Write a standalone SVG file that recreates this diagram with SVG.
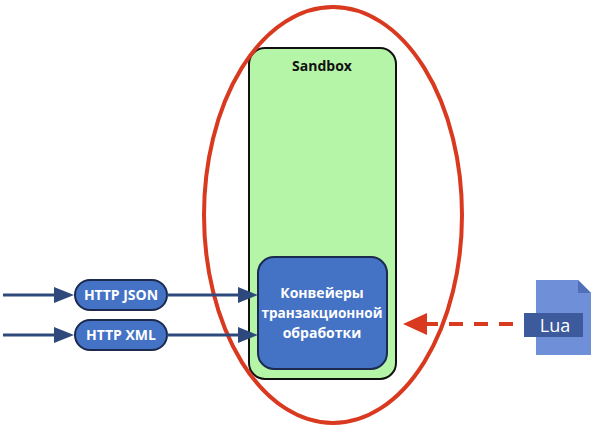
<svg xmlns="http://www.w3.org/2000/svg" width="600" height="437" viewBox="0 0 600 437">
<style>
.lbl{font-family:"Open Sans","Liberation Sans",sans-serif;font-weight:bold;fill:#fff;text-anchor:middle}
.pill{fill:#4472c4;stroke:#1b2a4e;stroke-width:2}
.conn{stroke:#2e4a7d;stroke-width:3;fill:none}
.head{fill:#2e4a7d}
</style>
<rect width="600" height="437" fill="#fff"/>
<g id="sandbox">
<rect x="249" y="48" width="147" height="331" rx="16" fill="#b5f5a8" stroke="#111" stroke-width="2"/>
<text x="322" y="71" font-family="'Open Sans','Liberation Sans',sans-serif" font-weight="bold" font-size="14" text-anchor="middle" fill="#111">Sandbox</text>
</g>
<g id="pipelines">
<rect x="258" y="257" width="129" height="112" rx="16" fill="#4472c4" stroke="#1b2a4e" stroke-width="2"/>
<text class="lbl" font-size="14" x="322" y="298">Конвейеры</text>
<text class="lbl" font-size="14" x="322" y="318" textLength="121" lengthAdjust="spacingAndGlyphs">транзакционной</text>
<text class="lbl" font-size="14" x="322" y="338">обработки</text>
</g>
<g id="http-json">
<rect class="pill" x="75" y="280" width="92" height="30" rx="15"/>
<text class="lbl" font-size="14" x="121" y="300">HTTP JSON</text>
</g>
<g id="http-xml">
<rect class="pill" x="75" y="320" width="92" height="30" rx="15"/>
<text class="lbl" font-size="14" x="121" y="340">HTTP XML</text>
</g>
<g id="lua">
<path d="M536,280H578L591,293V355H536Z" fill="#6f8fd8"/>
<path d="M578,280V293H591Z" fill="#4f6fb8"/>
<rect x="524" y="313" width="59" height="24" fill="#3d5a9c"/>
<text x="555" y="332" font-family="'Open Sans','Liberation Sans',sans-serif" font-size="18" text-anchor="middle" fill="#fff">Lua</text>
</g>
<g id="boundary">
<ellipse cx="333" cy="215" rx="129" ry="208" fill="none" stroke="#d9391f" stroke-width="4"/>
</g>
<g id="connectors">
<line class="conn" x1="3" y1="295" x2="56" y2="295"/>
<path class="head" d="M74,295L54,287V303Z"/>
<line class="conn" x1="3" y1="335" x2="56" y2="335"/>
<path class="head" d="M74,335L54,327V343Z"/>
<line class="conn" x1="167" y1="295" x2="240" y2="295"/>
<path class="head" d="M258,295L238,287V303Z"/>
<line class="conn" x1="167" y1="335" x2="240" y2="335"/>
<path class="head" d="M258,335L238,327V343Z"/>
<line x1="513" y1="324" x2="427" y2="324" stroke="#d9391f" stroke-width="4" stroke-dasharray="14 11"/>
<path d="M403,324L427,313V335Z" fill="#d9391f"/>
</g>
</svg>
